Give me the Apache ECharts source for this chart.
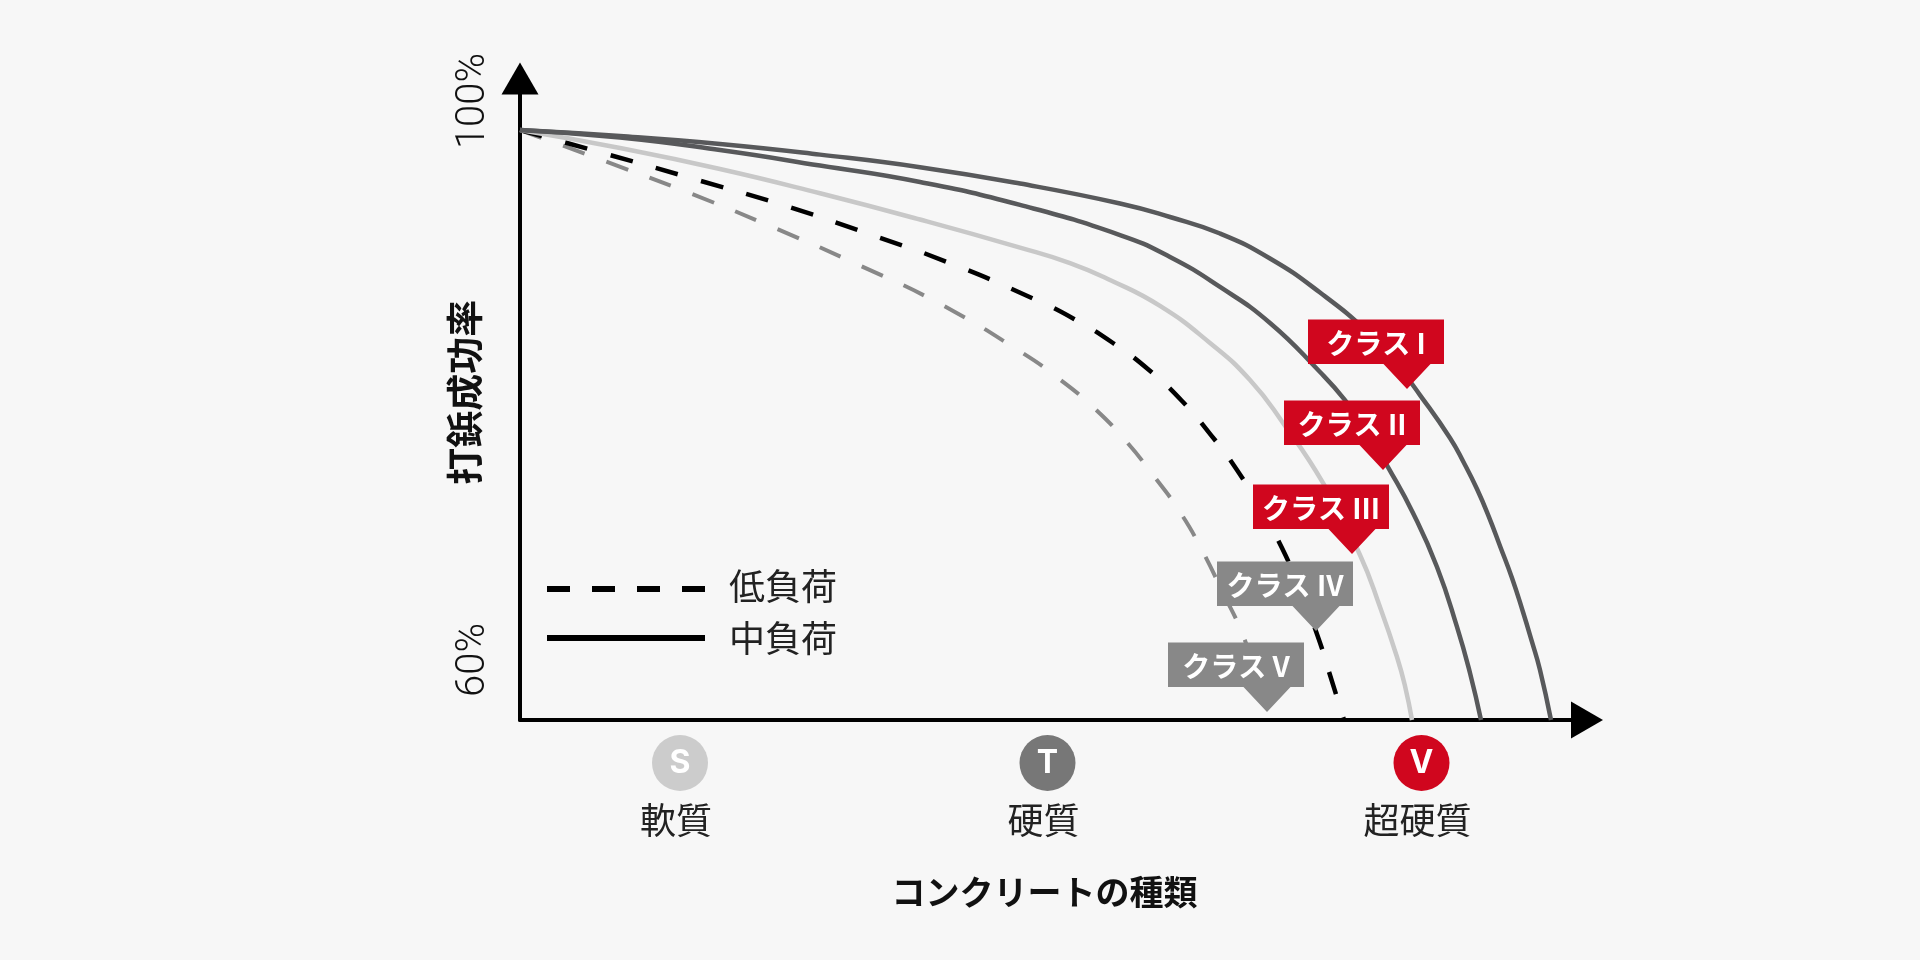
<!DOCTYPE html>
<html>
<head>
<meta charset="utf-8">
<style>html,body{margin:0;padding:0;background:#f7f7f7}#c{width:1920px;height:960px}</style>
<script src="https://cdn.jsdelivr.net/npm/echarts@6/dist/echarts.min.js"></script>
</head>
<body>
<div id="c"></div>
<script>
const curveClassI = [[0,100],[10,99.59],[20,99.05],[30,98.33],[40,97.48],[50,96.37],[60,95.02],[65,94.10],[70,92.98],[75,91.29],[80,88.98],[85,86.17],[87.5,84.27],[90,82.03],[93,79.12],[94.4,77.42],[95.7,75.66],[96.9,73.76],[98,71.80],[99.2,69.63],[100.3,67.32],[101.2,65.29],[102,63.39],[103.1,60]];
const curveClassII = [[0,100],[10,99.49],[20,98.64],[30,97.59],[40,96.47],[50,94.92],[60,92.88],[65,91.39],[70,89.36],[75,86.92],[80,83.59],[82.5,81.69],[84.7,79.59],[86.8,77.15],[89.3,74.03],[91.7,70.37],[93.7,66.31],[95,63.19],[96.1,60]];
const curveClassIII = [[0,100],[10,98.78],[20,97.36],[30,95.71],[40,93.93],[50,92.03],[55,90.98],[59,89.83],[64,88.07],[69,85.56],[73,83.05],[76.3,80.14],[80.3,76.07],[84,71.19],[86,67.66],[87.7,64.27],[88.5,62.31],[89.2,60]];
const curveClassIV = [[0,100],[8.8,98.34],[17.4,96.68],[26.1,94.95],[34.6,93.02],[43.2,90.92],[51.4,88.54],[55.4,87.19],[59.3,85.56],[62.9,83.73],[66.2,81.63],[69.1,79.32],[71.7,76.95],[74,74.37],[76.2,71.66],[78,68.81],[79.8,65.63],[81,63.05],[82.4,60]];
const curveClassV = [[0,100],[8.6,97.86],[17.2,95.66],[25.7,93.29],[34.1,90.78],[42.2,88.14],[50.1,84.95],[53.8,83.19],[57.3,81.22],[60.5,78.98],[63.3,76.61],[66,74.10],[68.3,71.39],[70.2,68.75],[72.2,65.90],[73.6,63.05],[74.8,60]];
const badgeNames = ['クラス I','クラス II','クラス III','クラス IV','クラス V'];
const badgeTips = [[88.7,82.44],[86.3,76.95],[83.2,71.25],[79.6,66.03],[74.7,60.54]];
const badgeColors = ['#d0061e','#d0061e','#d0061e','#888888','#888888'];
const hardnessValues = [16,52.75,90.15];
const hardnessLetters = ['S','T','V'];
const hardnessNames = ['軟質','硬質','超硬質'];
const yTickValues = [60,100];
const legendNames = ['低負荷','中負荷'];
const yTitle = '打鋲成功率';
const xTitle = 'コンクリートの種類';

const CJK = '"Noto Sans CJK JP","Noto Sans",sans-serif';
const chart = echarts.init(document.getElementById('c'), null, {renderer:'canvas', width:1920, height:960});

function line(name, data, color, width, dash){
  return {type:'line', name, data, smooth:0.5, symbol:'none', clip:false, silent:true,
    lineStyle:{color, width, type: dash || 'solid', cap:'butt', join:'round'}};
}
const circ = c => ({backgroundColor:c, width:56, height:56, borderRadius:28, align:'center', verticalAlign:'middle',
  lineHeight:56, color:'#fff', fontFamily:'Inter,"Noto Sans",sans-serif', fontWeight:'bold', fontSize:32});

chart.setOption({
  backgroundColor:'#f7f7f7',
  animation:false,
  grid:{left:520, right:333, top:78.375, bottom:240, containLabel:false},
  xAxis:{
    type:'value', min:0, max:106.7, splitLine:{show:false},
    axisLine:{show:true, onZero:false, lineStyle:{color:'#000', width:4}, symbol:['none','triangle'], symbolSize:[37,32]},
    axisTick:{show:false},
    axisLabel:{
      show:true, customValues:hardnessValues, margin:15, interval:0, hideOverlap:false, showMinLabel:true, showMaxLabel:true,
      formatter:(v)=>{const i=hardnessValues.indexOf(v); return '{'+hardnessLetters[i]+'|'+hardnessLetters[i]+'}\n{n|'+hardnessNames[i]+'}';},
      rich:{
        S:circ('#cccccc'), T:circ('#777777'), V:circ('#d0061e'),
        n:{fontFamily:CJK, fontSize:36, color:'#222', lineHeight:58, padding:[0,8,0,0], align:'center'}
      }
    },
    name:xTitle, nameLocation:'middle', nameGap:155,
    nameTextStyle:{fontFamily:CJK, fontWeight:'bold', fontSize:34, color:'#111', padding:[0,18,0,0]}
  },
  yAxis:{
    type:'value', min:60, max:103.5, splitLine:{show:false},
    axisLine:{show:true, onZero:false, lineStyle:{color:'#000', width:4}, symbol:['none','triangle'], symbolSize:[37,32]},
    axisTick:{show:false},
    axisLabel:{
      show:true, customValues:yTickValues, rotate:90, margin:26, align:'center', verticalAlign:'bottom',
      formatter:(v)=> v===60 ? '{a|'+v+'%}' : '{b|'+v+'%}',
      rich:{
        a:{fontFamily:'Roboto,sans-serif', fontWeight:300, fontSize:40, color:'#111', padding:[0,0,0,120]},
        b:{fontFamily:'Roboto,sans-serif', fontWeight:300, fontSize:40, color:'#111', padding:[0,0,0,58]}
      }
    },
    name:yTitle, nameLocation:'middle', nameGap:37, nameRotate:90, nameMoveOverlap:false,
    nameTextStyle:{fontFamily:CJK, fontWeight:'bold', fontSize:37, color:'#111', padding:[0,0,0,14]}
  },
  series:[
    line('クラス V', curveClassV, '#888888', 4, [23,23]),
    line('クラス IV', curveClassIV, '#000000', 4.5, [23,24]),
    line('クラス III', curveClassIII, '#c8c8c8', 4.5),
    line('クラス II', curveClassII, '#58595b', 4.5),
    line('クラス I', curveClassI, '#58595b', 4.5),
    {
      type:'custom', name:'badges', clip:false, silent:true, coordinateSystem:'cartesian2d', z:10,
      data:badgeTips,
      encode:{x:0,y:1},
      renderItem:(params, api)=>{
        const p = api.coord([api.value(0), api.value(1)]);
        const i = params.dataIndex, x = p[0], y = p[1];
        return {type:'group', children:[
          {type:'polygon', shape:{points:[[x-99,y-69.5],[x+37,y-69.5],[x+37,y-25],[x+23.5,y-25],[x,y],[x-23.5,y-25],[x-99,y-25]]}, style:{fill:badgeColors[i]}},
          {type:'text', style:{x:x-31, y:y-46, text:badgeNames[i], align:'center', verticalAlign:'middle', fill:'#fff',
            font:'bold 28px '+CJK}}
        ]};
      }
    }
  ],
  graphic:[
    {type:'line', shape:{x1:547,y1:589,x2:705,y2:589}, style:{stroke:'#000', lineWidth:6, lineDash:[23,22]}, silent:true},
    {type:'line', shape:{x1:547,y1:638,x2:705,y2:638}, style:{stroke:'#000', lineWidth:6}, silent:true},
    {type:'text', x:729, y:586, style:{text:legendNames[0], font:'36px '+CJK, fill:'#222', verticalAlign:'middle'}},
    {type:'text', x:729, y:638, style:{text:legendNames[1], font:'36px '+CJK, fill:'#222', verticalAlign:'middle'}}
  ]
});
</script>
</body>
</html>
